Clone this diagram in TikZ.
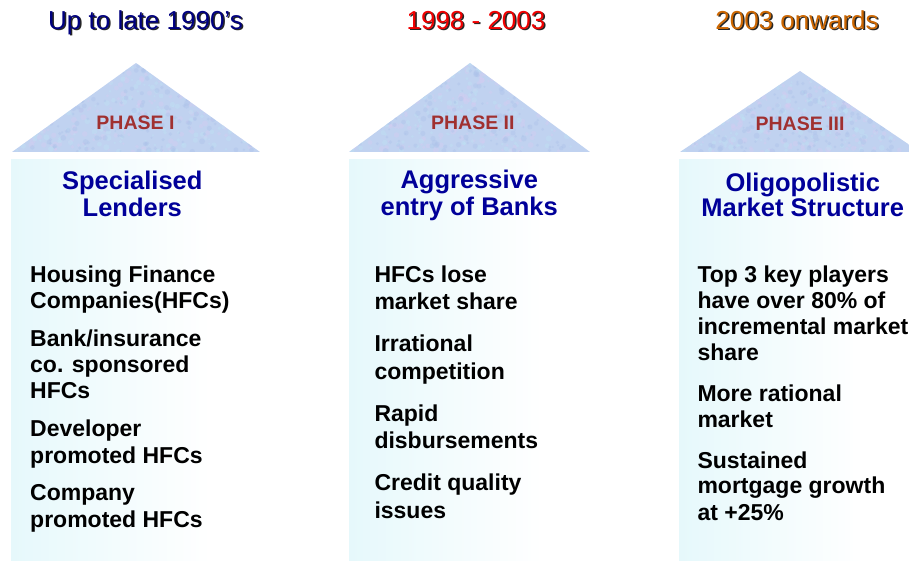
\documentclass[tikz,border=0pt]{standalone}
\usepackage{fontspec}
\setmainfont{Liberation Sans}
\definecolor{hdrA}{RGB}{0,0,128}
\definecolor{hdrB}{RGB}{240,0,0}
\definecolor{hdrC}{RGB}{204,102,0}
\definecolor{phasec}{RGB}{160,48,48}
\definecolor{titlec}{RGB}{0,0,153}
\definecolor{boxc}{RGB}{214,244,249}
\definecolor{tribase}{RGB}{192,210,240}
\definecolor{triA}{RGB}{214,204,240}
\definecolor{triB}{RGB}{190,226,244}
\definecolor{triC}{RGB}{172,194,234}
\pgfdeclarehorizontalshading{boxshade}{100bp}{color(0bp)=(boxc); color(65bp)=(white); color(100bp)=(white)}
\tikzset{
  hdr/.style={font=\fontsize{26}{28}\selectfont, anchor=base, inner sep=0pt},
  hdrshadow/.style={hdr, text=black!85},
  phase/.style={font=\bfseries\fontsize{19.5}{22}\selectfont, text=phasec, anchor=base, inner sep=0pt},
  ttl/.style={font=\bfseries\fontsize{25.5}{27}\selectfont, text=titlec, anchor=base, inner sep=0pt},
  item/.style={font=\bfseries\fontsize{23}{26}\selectfont, anchor=base west, inner sep=0pt},
  panel/.style={shading=boxshade, draw=none},
  spot/.style={opacity=0.4},
}
\begin{document}
\begin{tikzpicture}[x=1pt,y=-1pt]
\useasboundingbox (0,0) rectangle (909,561);
\pgfmathsetseed{7}
% roofs
\foreach \ax/\ay/\bl/\br in {136/63/12/260, 470/63/349/590, 800/71/680/920}{
  \begin{scope}
    \clip (\bl,152) -- (\ax,\ay) -- (\br,152) -- cycle;
    \fill[tribase] (\bl,\ay) rectangle (\br,152);
    \foreach \k in {1,...,220}{
      \pgfmathsetmacro\px{\bl+rnd*(\br-\bl)}
      \pgfmathsetmacro\py{\ay+rnd*(152-\ay)}
      \pgfmathsetmacro\pr{1+rnd*2}
      \fill[triA,spot] (\px,\py) circle (\pr);
    }
    \foreach \k in {1,...,220}{
      \pgfmathsetmacro\px{\bl+rnd*(\br-\bl)}
      \pgfmathsetmacro\py{\ay+rnd*(152-\ay)}
      \pgfmathsetmacro\pr{1+rnd*2}
      \fill[triB,spot] (\px,\py) circle (\pr);
    }
    \foreach \k in {1,...,220}{
      \pgfmathsetmacro\px{\bl+rnd*(\br-\bl)}
      \pgfmathsetmacro\py{\ay+rnd*(152-\ay)}
      \pgfmathsetmacro\pr{1+rnd*2}
      \fill[triC,spot] (\px,\py) circle (\pr);
    }
  \end{scope}
}
% panels
\path[panel] (11,160) rectangle (260,561);
\path[panel] (349,160) rectangle (590,561);
\path[panel] (679,160) rectangle (909,561);
% headers
\node[hdrshadow] (h1s) at (147,30.8) {Up to late 1990’s};
\node[hdr, text=hdrA] (h1) at (145.5,29.3) {Up to late 1990’s};
\node[hdrshadow] (h2s) at (477.5,30.8) {1998 - 2003};
\node[hdr, text=hdrB] (h2) at (476,29.3) {1998 - 2003};
\node[hdrshadow] (h3s) at (798.5,30.8) {2003 onwards};
\node[hdr, text=hdrC] (h3) at (797,29.3) {2003 onwards};
% phases
\node[phase] (p1) at (135.5,129.3) {PHASE I};
\node[phase] (p2) at (472.8,129.3) {PHASE II};
\node[phase] (p3) at (800,130.7) {PHASE III};
% titles
\node[ttl] (t1a) at (132.3,189.2) {Specialised};
\node[ttl] (t1b) at (132.3,216.5) {Lenders};
\node[ttl] (t2a) at (469.3,188.8) {Aggressive};
\node[ttl] (t2b) at (469.3,215.2) {entry of Banks};
\node[ttl] (t3a) at (802.7,191.5) {Oligopolistic};
\node[ttl] (t3b) at (802.7,216.5) {Market Structure};
% column 1 items
\node[item] (a1) at (30,282) {Housing Finance};
\node[item] (a2) at (30,308) {Companies(HFCs)};
\node[item] (a3) at (30,346) {Bank/insurance};
\node[item] (a4) at (30,372) {co. sponsored};
\node[item] (a5) at (30,398) {HFCs};
\node[item] (a6) at (30,436) {Developer};
\node[item] (a7) at (30,463) {promoted HFCs};
\node[item] (a8) at (30,500) {Company};
\node[item] (a9) at (30,527) {promoted HFCs};
% column 2 items
\node[item] (b1) at (374.3,282.2) {HFCs lose};
\node[item] (b2) at (374.3,309.8) {market share};
\node[item] (b3) at (374.3,351.2) {Irrational};
\node[item] (b4) at (374.3,379.2) {competition};
\node[item] (b5) at (374.3,421.2) {Rapid};
\node[item] (b6) at (374.3,448.2) {disbursements};
\node[item] (b7) at (374.3,490.5) {Credit quality};
\node[item] (b8) at (374.3,518.8) {issues};
% column 3 items
\node[item] (c1) at (697.3,282.2) {Top 3 key players};
\node[item] (c2) at (697.3,308.2) {have over 80\% of};
\node[item] (c3) at (697.3,334.2) {incremental market};
\node[item] (c4) at (697.3,360.5) {share};
\node[item] (c5) at (697.3,401.2) {More rational};
\node[item] (c6) at (697.3,427.5) {market};
\node[item] (c7) at (697.3,468.8) {Sustained};
\node[item] (c8) at (697.3,493.8) {mortgage growth};
\node[item] (c9) at (697.3,520.5) {at +25\%};
\end{tikzpicture}
\end{document}
